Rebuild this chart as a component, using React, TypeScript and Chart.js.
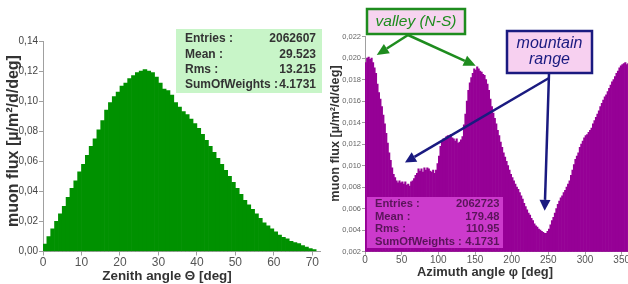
import React, { useEffect, useRef } from 'react';
import { Chart, registerables } from 'chart.js';

Chart.register(...registerables);

// ---------- data ----------
const ZENITH_BIN_WIDTH = 1; // deg
const zenithFlux = [
  0.005, 0.010, 0.015, 0.020, 0.025, 0.030, 0.036, 0.042, 0.047, 0.053,
  0.058, 0.064, 0.070, 0.075, 0.081, 0.087, 0.094, 0.099, 0.103, 0.106,
  0.110, 0.112, 0.115, 0.117, 0.119, 0.120, 0.121, 0.120, 0.119, 0.116,
  0.112, 0.108, 0.107, 0.104, 0.099, 0.096, 0.093, 0.091, 0.088, 0.085,
  0.082, 0.078, 0.074, 0.070, 0.066, 0.062, 0.058, 0.054, 0.050, 0.046,
  0.042, 0.038, 0.034, 0.031, 0.028, 0.025, 0.022, 0.019, 0.017, 0.015,
  0.013, 0.011, 0.0095, 0.0085, 0.0068, 0.006, 0.0052, 0.004, 0.003, 0.002,
  0.0012,
];

const AZIMUTH_BIN_WIDTH = 2; // deg
const azimuthFlux = [
  0.0196, 0.0200, 0.0201, 0.0199, 0.0200, 0.0196, 0.0191, 0.0186, 0.0176, 0.0168,
  0.0162, 0.0155, 0.0147, 0.0139, 0.0130, 0.0121, 0.0112, 0.0105, 0.0098, 0.0092,
  0.0089, 0.0086, 0.0084, 0.0086, 0.0084, 0.0085, 0.0083, 0.0085, 0.0082, 0.0083,
  0.0081, 0.0085, 0.0086, 0.0088, 0.0091, 0.0093, 0.0097, 0.0095, 0.0097, 0.0094,
  0.0098, 0.0096, 0.0098, 0.0097, 0.0095, 0.0094, 0.0096, 0.0093, 0.0096, 0.0102,
  0.0109, 0.0118, 0.0123, 0.0125, 0.0124, 0.0127, 0.0128, 0.0126, 0.0129, 0.0126,
  0.0125, 0.0123, 0.0125, 0.0121, 0.0122, 0.0124, 0.0127, 0.0138, 0.0148, 0.0160,
  0.0170, 0.0177, 0.0182, 0.0186, 0.0190, 0.0189, 0.0192, 0.0190, 0.0188, 0.0187,
  0.0185, 0.0184, 0.0180, 0.0176, 0.0170, 0.0162, 0.0155, 0.0149, 0.0144, 0.0139,
  0.0133, 0.0128, 0.0122, 0.0117, 0.0112, 0.0108, 0.0104, 0.0100, 0.0096, 0.0092,
  0.0089, 0.0086, 0.0083, 0.0080, 0.0078, 0.0075, 0.0072, 0.0069, 0.0065, 0.0062,
  0.0059, 0.0056, 0.0054, 0.0051, 0.0049, 0.0046, 0.0044, 0.0043, 0.0041, 0.0040,
  0.0039, 0.0038, 0.0037, 0.0037, 0.0039, 0.0041, 0.0045, 0.0049, 0.0052, 0.0056,
  0.0060, 0.0064, 0.0067, 0.0070, 0.0072, 0.0075, 0.0077, 0.0080, 0.0083, 0.0086,
  0.0091, 0.0096, 0.0101, 0.0106, 0.0109, 0.0112, 0.0117, 0.0120, 0.0123, 0.0126,
  0.0128, 0.0129, 0.0131, 0.0133, 0.0135, 0.0139, 0.0142, 0.0145, 0.0148, 0.0151,
  0.0155, 0.0158, 0.0161, 0.0164, 0.0166, 0.0169, 0.0172, 0.0175, 0.0178, 0.0180,
  0.0183, 0.0186, 0.0188, 0.0191, 0.0193, 0.0194, 0.0195, 0.0196, 0.0194, 0.0195,
];

const zenithStatLabels = ['Entries :', 'Mean :', 'Rms :', 'SumOfWeights :'];
const zenithStatValues = ['2062607', '29.523', '13.215', '4.1731'];
const azimuthStatLabels = ['Entries :', 'Mean :', 'Rms :', 'SumOfWeights :'];
const azimuthStatValues = ['2062723', '179.48', '110.95', '4.1731'];

const yTitle = 'muon flux [\u00b5/m\u00b2/d/deg]';
const zenithXTitle = 'Zenith angle \u0398 [deg]';
const azimuthXTitle = 'Azimuth angle \u03c6 [deg]';

const valleyLabel = 'valley (N-S)';
const mountainLabel = ['mountain', 'range'];
// arrow targets in data coordinates [azimuth deg, flux]
const valleyTargets = [[16, 0.0203], [151, 0.0193]];
const mountainTargets = [[54.5, 0.0103], [245, 0.0058]];

const FONT = '"Liberation Sans", Arial, sans-serif';

function arrow(ctx: CanvasRenderingContext2D, x1: number, y1: number, x2: number, y2: number, color: string, lw: number, headLen: number, headW: number) {
  const ang = Math.atan2(y2 - y1, x2 - x1);
  const bx = x2 - headLen * Math.cos(ang);
  const by = y2 - headLen * Math.sin(ang);
  ctx.save();
  ctx.strokeStyle = color;
  ctx.fillStyle = color;
  ctx.lineWidth = lw;
  ctx.beginPath();
  ctx.moveTo(x1, y1);
  ctx.lineTo(bx, by);
  ctx.stroke();
  ctx.beginPath();
  ctx.moveTo(x2, y2);
  ctx.lineTo(bx + headW * Math.sin(ang), by - headW * Math.cos(ang));
  ctx.lineTo(bx - headW * Math.sin(ang), by + headW * Math.cos(ang));
  ctx.closePath();
  ctx.fill();
  ctx.restore();
}

function statsBox(ctx: CanvasRenderingContext2D, box: { x: number; y: number; w: number; h: number }, bg: string, color: string, size: number, labels: string[], values: string[], lx: number, rx: number, rows: number[]) {
  ctx.save();
  ctx.fillStyle = bg;
  ctx.fillRect(box.x, box.y, box.w, box.h);
  ctx.fillStyle = color;
  ctx.font = `bold ${size}px ${FONT}`;
  ctx.textBaseline = 'middle';
  labels.forEach((l, i) => {
    ctx.textAlign = 'left';
    ctx.fillText(l, lx, rows[i]);
    ctx.textAlign = 'right';
    ctx.fillText(values[i], rx, rows[i]);
  });
  ctx.restore();
}

function titles(ctx: CanvasRenderingContext2D, yt: { x: number; y: number; size: number }, xt: { x: number; y: number; size: number; text: string }) {
  ctx.save();
  ctx.fillStyle = '#333';
  ctx.textAlign = 'center';
  ctx.textBaseline = 'middle';
  ctx.font = `bold ${xt.size}px ${FONT}`;
  ctx.fillText(xt.text, xt.x, xt.y);
  ctx.translate(yt.x, yt.y);
  ctx.rotate(-Math.PI / 2);
  ctx.font = `bold ${yt.size}px ${FONT}`;
  ctx.fillText(yTitle, 0, 0);
  ctx.restore();
}

const RIGHT_LEFT = 320;

export default function App() {
  const leftRef = useRef<HTMLCanvasElement>(null);
  const rightRef = useRef<HTMLCanvasElement>(null);

  useEffect(() => {
    const leftOverlay = {
      id: 'leftOverlay',
      afterDraw(chart: any) {
        const ctx = chart.ctx;
        statsBox(ctx, { x: 176, y: 29, w: 146, h: 64 }, '#c8f5c8', '#333', 12,
          zenithStatLabels, zenithStatValues, 185, 316, [39, 54.3, 69.6, 85]);
        titles(ctx, { x: 14, y: 141, size: 16 }, { x: 167, y: 276.5, size: 13.4, text: zenithXTitle });
      },
    };

    const rightOverlay = {
      id: 'rightOverlay',
      afterDraw(chart: any) {
        const ctx = chart.ctx;
        const xs = chart.scales.x;
        const ys = chart.scales.y;
        const o = RIGHT_LEFT;
        statsBox(ctx, { x: 367 - o, y: 197, w: 136, h: 51 }, 'rgb(204,58,204)', '#5a145a', 11.2,
          azimuthStatLabels, azimuthStatValues, 375 - o, 499.5 - o, [204, 216.7, 229.3, 242]);
        titles(ctx, { x: 335 - o, y: 133.5, size: 12.7 }, { x: 485 - o, y: 272.7, size: 12.9, text: azimuthXTitle });

        // valley annotation
        ctx.save();
        ctx.fillStyle = '#f7d4f0';
        ctx.fillRect(367 - o, 9, 98, 25);
        ctx.strokeStyle = '#1e8c1e';
        ctx.lineWidth = 2.5;
        ctx.strokeRect(367 - o, 9, 98, 25);
        ctx.fillStyle = '#1e8c1e';
        ctx.font = `italic 15.5px ${FONT}`;
        ctx.textAlign = 'center';
        ctx.textBaseline = 'middle';
        ctx.fillText(valleyLabel, 416 - o, 22);
        ctx.restore();
        valleyTargets.forEach(([d, v]) => {
          arrow(ctx, 408 - o, 35, xs.getPixelForValue(d), ys.getPixelForValue(v), '#1e8c1e', 2.5, 12, 5.5);
        });

        // mountain annotation
        ctx.save();
        ctx.fillStyle = '#f7d0f0';
        ctx.fillRect(507 - o, 31, 85, 42);
        ctx.strokeStyle = '#1a1a80';
        ctx.lineWidth = 2.5;
        ctx.strokeRect(507 - o, 31, 85, 42);
        ctx.fillStyle = '#1a1a80';
        ctx.font = `italic 16px ${FONT}`;
        ctx.textAlign = 'center';
        ctx.textBaseline = 'middle';
        ctx.fillText(mountainLabel[0], 549.5 - o, 44);
        ctx.fillText(mountainLabel[1], 549.5 - o, 60);
        ctx.restore();
        const starts = [[549 - o, 78], [549 - o, 74]];
        mountainTargets.forEach(([d, v], i) => {
          arrow(ctx, starts[i][0], starts[i][1], xs.getPixelForValue(d), ys.getPixelForValue(v), '#1a1a80', 2.5, 11, 5.5);
        });
      },
    };

    const axisGrid = (len: number) => ({ display: true, drawOnChartArea: false, tickLength: len, color: '#a0a0a0', offset: false });

    const left = new Chart(leftRef.current!, {
      type: 'bar',
      data: {
        datasets: [{
          data: zenithFlux.map((v, i) => ({ x: (i + 0.5) * ZENITH_BIN_WIDTH, y: v })),
          backgroundColor: '#009100',
          borderWidth: 0,
          barPercentage: 1,
          categoryPercentage: 1,
        }],
      },
      options: {
        responsive: false,
        animation: false,
        layout: { padding: { top: 41, right: 10, left: 0, bottom: 0 } },
        plugins: { legend: { display: false }, tooltip: { enabled: false } },
        scales: {
          x: {
            type: 'linear', min: 0, max: 72, offset: false,
            afterFit: (s: any) => { s.height = 32.5; },
            grid: axisGrid(4), border: { color: '#a0a0a0' },
            ticks: { stepSize: 10, includeBounds: false, padding: 0, color: '#555', font: { family: FONT, size: 12 }, maxRotation: 0, autoSkip: false },
          },
          y: {
            min: 0, max: 0.14,
            afterFit: (s: any) => { s.width = 43; },
            grid: axisGrid(4), border: { color: '#a0a0a0' },
            ticks: { stepSize: 0.02, padding: 1, color: '#444', font: { family: FONT, size: 10 }, callback: (v: any) => Number(v).toFixed(2).replace('.', ',') },
          },
        },
      } as any,
      plugins: [leftOverlay],
    });

    const right = new Chart(rightRef.current!, {
      type: 'bar',
      data: {
        datasets: [{
          data: azimuthFlux.map((v, i) => ({ x: (i + 0.5) * AZIMUTH_BIN_WIDTH, y: v })),
          backgroundColor: 'rgb(150,0,150)',
          borderWidth: 0,
          barPercentage: 1,
          categoryPercentage: 1,
        }],
      },
      options: {
        responsive: false,
        animation: false,
        layout: { padding: { top: 36.7, right: 9, left: 0, bottom: 0 } },
        plugins: { legend: { display: false }, tooltip: { enabled: false } },
        scales: {
          x: {
            type: 'linear', min: 0, max: 360, offset: false,
            afterFit: (s: any) => { s.height = 32.3; },
            grid: axisGrid(3), border: { color: '#a0a0a0' },
            ticks: { stepSize: 50, includeBounds: false, padding: 0, color: '#555', font: { family: FONT, size: 10 }, maxRotation: 0, autoSkip: false },
          },
          y: {
            min: 0.002, max: 0.022,
            afterFit: (s: any) => { s.width = 45; },
            grid: axisGrid(3), border: { color: '#a0a0a0' },
            ticks: { stepSize: 0.002, padding: 1, color: '#666', font: { family: FONT, size: 7.5 }, callback: (v: any) => Number(v).toFixed(3).replace('.', ',') },
          },
        },
      } as any,
      plugins: [rightOverlay],
    });

    return () => { left.destroy(); right.destroy(); };
  }, []);

  return (
    <div style={{ position: 'fixed', left: 0, top: 0, width: 628, height: 284, overflow: 'hidden', background: '#fff' }}>
      <canvas ref={leftRef} width={330} height={284} style={{ position: 'absolute', left: 0, top: 0 }} />
      <canvas ref={rightRef} width={318} height={284} style={{ position: 'absolute', left: RIGHT_LEFT, top: 0 }} />
    </div>
  );
}
